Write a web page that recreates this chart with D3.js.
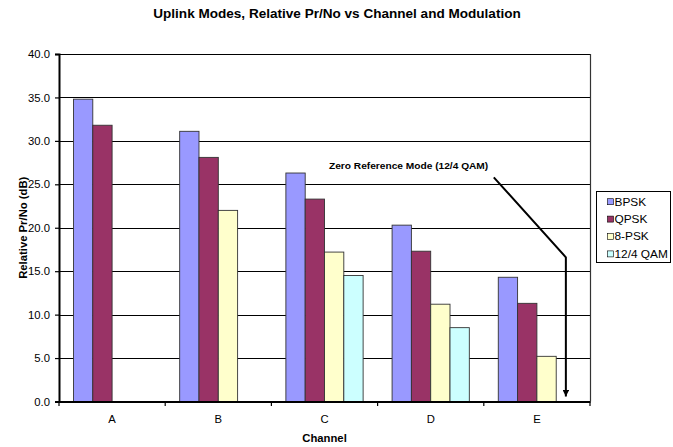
<!DOCTYPE html>
<html>
<head>
<meta charset="utf-8">
<script src="https://cdn.jsdelivr.net/npm/d3@7"></script>
<style>
  html, body { margin: 0; padding: 0; background: #fff; }
  svg { display: block; font-family: "Liberation Sans", Arial, sans-serif; }
</style>
</head>
<body>
<svg id="chart" width="673" height="447"></svg>
<script>
const categories = ["A", "B", "C", "D", "E"];
const seriesNames = ["BPSK", "QPSK", "8-PSK", "12/4 QAM"];
const bpsk   = [34.8, 31.1, 26.3, 20.3, 14.3];
const qpsk   = [31.8, 28.1, 23.3, 17.3, 11.3];
const psk8   = [null, 22.0, 17.2, 11.2, 5.2];
const qam124 = [null, null, 14.5, 8.5, null];
const seriesValues = [bpsk, qpsk, psk8, qam124];
const seriesColors = ["#9999FF", "#993366", "#FFFFCC", "#CCFFFF"];
const yTicks = [0, 5, 10, 15, 20, 25, 30, 35, 40];
const titleText = "Uplink Modes, Relative Pr/No vs Channel and Modulation";
const xTitle = "Channel";
const yTitle = "Relative Pr/No (dB)";
const annotationText = "Zero Reference Mode (12/4 QAM)";

const svg = d3.select("#chart");
const L = 59, R = 590, T = 54, B = 401.5;
const SX = 1.13; // horizontal text stretch of the original

function stretchText(sel, x, y) {
  sel.attr("transform", `translate(${x},${y}) scale(${SX},1)`);
  return sel;
}

const x = d3.scaleBand().domain(categories).range([L, R]).paddingInner(0).paddingOuter(0);
const xs = d3.scaleBand().domain(seriesNames).range([0, x.bandwidth()]).paddingInner(0).paddingOuter(0.75);
const y = d3.scaleLinear().domain([0, 40]).range([B, T]);

// gridlines
svg.append("g").selectAll("line").data(yTicks).join("line")
  .attr("x1", L).attr("x2", R)
  .attr("y1", d => Math.round(y(d)) + 0.5).attr("y2", d => Math.round(y(d)) + 0.5)
  .attr("stroke", "#000").attr("stroke-width", 1);
// right plot border
svg.append("line").attr("x1", R + 0.5).attr("x2", R + 0.5).attr("y1", y(40)).attr("y2", B)
  .attr("stroke", "#333").attr("stroke-width", 1.2);

// bars
const data = [];
categories.forEach((c, i) => seriesNames.forEach((s, j) => {
  const v = seriesValues[j][i];
  if (v != null) data.push({ c, s, v, color: seriesColors[j] });
}));
svg.append("g").selectAll("rect").data(data).join("rect")
  .attr("x", d => x(d.c) + xs(d.s))
  .attr("y", d => y(d.v))
  .attr("width", xs.bandwidth())
  .attr("height", d => y(0) - y(d.v))
  .attr("fill", d => d.color)
  .attr("stroke", "#333").attr("stroke-width", 0.9);

// y axis
const yAxis = svg.append("g").attr("transform", `translate(${L},0)`)
  .call(d3.axisLeft(y).tickValues(yTicks).tickSize(4).tickFormat(d3.format(".1f")));
yAxis.select(".domain").attr("stroke", "#000").attr("stroke-width", 2);
yAxis.selectAll(".tick line").attr("stroke", "#000").attr("stroke-width", 1.2);
yAxis.selectAll(".tick text")
  .attr("x", null).attr("dy", null).attr("text-anchor", "end")
  .attr("font-size", 10).attr("fill", "#000")
  .attr("font-family", "Liberation Sans, Arial, sans-serif")
  .attr("transform", `translate(-9,3.6) scale(${SX},1)`);

// x axis
const xAxis = svg.append("g").attr("transform", `translate(0,${B})`)
  .call(d3.axisBottom(x).tickSize(0).tickPadding(0));
xAxis.select(".domain").attr("stroke", "#000").attr("stroke-width", 2);
xAxis.selectAll(".tick text").attr("font-size", 10).attr("fill", "#000")
  .attr("font-family", "Liberation Sans, Arial, sans-serif")
  .attr("dy", null).attr("y", null)
  .attr("transform", `translate(0,21.5) scale(${SX},1)`);
// category boundary ticks
const bounds = categories.map(c => x(c)).concat([x(categories[categories.length - 1]) + x.bandwidth()]);
svg.append("g").selectAll("line").data(bounds).join("line")
  .attr("x1", d => d).attr("x2", d => d).attr("y1", B).attr("y2", B + 4.5)
  .attr("stroke", "#000").attr("stroke-width", 1.2);

// titles
stretchText(svg.append("text").text(titleText).attr("text-anchor", "middle")
  .attr("font-size", 12).attr("font-weight", "bold"), 337, 17.5);
stretchText(svg.append("text").text(xTitle).attr("text-anchor", "middle")
  .attr("font-size", 10).attr("font-weight", "bold"), (L + R) / 2, 441.5);
svg.append("text").text(yTitle).attr("text-anchor", "middle")
  .attr("font-size", 10).attr("font-weight", "bold")
  .attr("transform", `translate(26.5,${(T + B) / 2}) rotate(-90) scale(${SX},1)`);

// annotation
const ax = x("E") + xs("12/4 QAM") + xs.bandwidth() / 2;
const tipY = y(0) - 5;
const cornerY = y(16.6);
const startX = x("E") + 10, startY = y(25.8);
svg.append("defs").append("marker").attr("id", "arrow")
  .attr("viewBox", "0 0 10 10").attr("refX", 10).attr("refY", 5)
  .attr("markerWidth", 3.2).attr("markerHeight", 3.2).attr("orient", "auto")
  .append("path").attr("d", "M0,0 L10,5 L0,10 Z").attr("fill", "#000");
svg.append("path")
  .attr("d", d3.line()([[startX, startY], [ax, cornerY], [ax, tipY]]))
  .attr("fill", "none").attr("stroke", "#000").attr("stroke-width", 2)
  .attr("marker-end", "url(#arrow)");
stretchText(svg.append("text").text(annotationText).attr("text-anchor", "start")
  .attr("font-size", 9).attr("font-weight", "bold"), 329, 169);

// legend
const lg = svg.append("g");
lg.append("rect").attr("x", 596.5).attr("y", 191.5).attr("width", 74).attr("height", 71)
  .attr("fill", "#fff").attr("stroke", "#000").attr("stroke-width", 1);
const rows = lg.selectAll("g").data(seriesNames).join("g")
  .attr("transform", (d, i) => `translate(0,${201.7 + i * 17.4})`);
rows.append("rect").attr("x", 607.5).attr("y", -3).attr("width", 6).attr("height", 6)
  .attr("fill", (d, i) => seriesColors[i]).attr("stroke", "#000").attr("stroke-width", 0.6);
rows.append("text").text(d => d).attr("font-size", 10.5)
  .attr("transform", `translate(614.5,3.8) scale(${SX},1)`);
</script>
</body>
</html>
